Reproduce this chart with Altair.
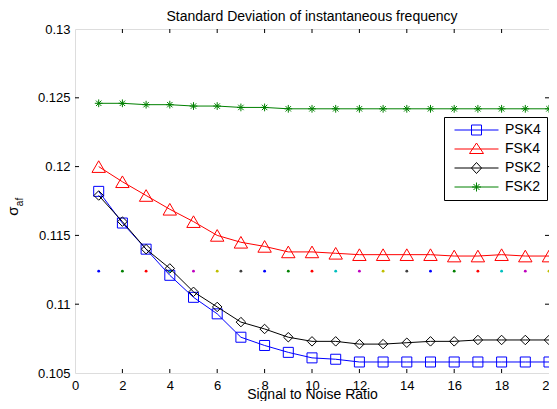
import altair as alt
import pandas as pd

# ---- data ----
snr = list(range(1, 21))
series_names = ["PSK4", "FSK4", "PSK2", "FSK2"]
series_colors = ["#0000FF", "#FF0000", "#000000", "#008000"]

psk4 = [0.1182, 0.1159, 0.1140, 0.1121, 0.1105, 0.1093, 0.1076, 0.1070, 0.1065, 0.1061,
        0.1060, 0.1058, 0.1058, 0.1058, 0.1058, 0.1058, 0.1058, 0.1058, 0.1058, 0.1058]
fsk4 = [0.1200, 0.1189, 0.1179, 0.1169, 0.1160, 0.1150, 0.1145, 0.1142, 0.1138, 0.1138,
        0.1137, 0.1136, 0.1136, 0.1136, 0.1136, 0.1135, 0.1135, 0.1136, 0.1135, 0.1135]
psk2 = [0.1179, 0.1160, 0.1140, 0.1126, 0.1109, 0.1098, 0.1087, 0.1082, 0.1076, 0.1073,
        0.1073, 0.1071, 0.1071, 0.1072, 0.1073, 0.1073, 0.1074, 0.1074, 0.1074, 0.1074]
fsk2 = [0.1246, 0.1246, 0.1245, 0.1245, 0.1244, 0.1244, 0.1243, 0.1243, 0.1242, 0.1242,
        0.1242, 0.1242, 0.1242, 0.1242, 0.1242, 0.1242, 0.1242, 0.1242, 0.1242, 0.1242]

dot_level = [0.1124, 0.1124, 0.1124, 0.1124, 0.1124, 0.1124, 0.1124, 0.1124, 0.1124, 0.1124,
             0.1124, 0.1124, 0.1124, 0.1124, 0.1124, 0.1124, 0.1124, 0.1124, 0.1124, 0.1124]
dot_colors = ["#0000FF", "#008000", "#FF0000", "#00BFBF", "#BF00BF", "#BFBF00", "#404040",
              "#0000FF", "#008000", "#FF0000", "#00BFBF", "#BF00BF", "#BFBF00", "#404040",
              "#0000FF", "#008000", "#FF0000", "#00BFBF", "#BF00BF", "#BFBF00"]

x_ticks = [0, 2, 4, 6, 8, 10, 12, 14, 16, 18, 20]
y_ticks = [0.105, 0.11, 0.115, 0.12, 0.125, 0.13]
x_inner_ticks = [2, 4, 6, 8, 10, 12, 14, 16, 18]
y_inner_ticks = [0.11, 0.115, 0.12, 0.125]

title_text = "Standard Deviation of instantaneous frequency"
x_title = "Signal to Noise Ratio"

# ---- tables ----
rows = []
for name, vals in zip(series_names, [psk4, fsk4, psk2, fsk2]):
    for s, v in zip(snr, vals):
        rows.append({"snr": s, "value": v, "series": name})
df = pd.DataFrame(rows)
dots_df = pd.DataFrame({"snr": snr, "value": dot_level, "color": dot_colors})
xt_df = pd.DataFrame({"snr": x_inner_ticks})
yt_df = pd.DataFrame({"value": y_inner_ticks})

W, H = 474, 344
FONT = "Liberation Sans"
TL = 4  # inward tick length

xscale = alt.Scale(domain=[0, 20], nice=False, padding=0)
yscale = alt.Scale(domain=[0.105, 0.13], nice=False, zero=False, padding=0)
xaxis = alt.Axis(values=x_ticks, title=x_title, grid=False, ticks=False, tickSize=0,
                 domain=False, labelPadding=6, titlePadding=-5, labelFontSize=13,
                 titleFontSize=14, titleFontWeight="normal", labelFont=FONT, titleFont=FONT,
                 labelColor="black", titleColor="black", labelFlush=False)
yaxis = alt.Axis(values=y_ticks, title=None, grid=False, ticks=False, tickSize=0,
                 domain=False, labelPadding=5, format="~g", labelFontSize=13,
                 labelFont=FONT, labelColor="black", labelFlush=False)


def X(field="snr"):
    return alt.X(f"{field}:Q", scale=xscale, axis=xaxis)


def Y(field="value"):
    return alt.Y(f"{field}:Q", scale=yscale, axis=yaxis)


base = alt.Chart(df)

star = "M-1,0L1,0M0,-1L0,1M-0.7,-0.7L0.7,0.7M-0.7,0.7L0.7,-0.7"
marker_specs = {
    "PSK4": ("square", 100),
    "FSK4": ("triangle-up", 180),
    "PSK2": ("diamond", 90),
    "FSK2": (star, 60),
}
series_layers = []
for name, col in zip(series_names, series_colors):
    shp, sz = marker_specs[name]
    sub_base = base.transform_filter(alt.datum.series == name)
    series_layers.append(
        sub_base.mark_line(strokeWidth=1, color=col).encode(x=X(), y=Y())
    )
    series_layers.append(
        sub_base.mark_point(shape=shp, size=sz, filled=False, color=col, strokeWidth=1,
                            opacity=1).encode(x=X(), y=Y())
    )

# legend symbols: line segment plus marker (units scaled by sqrt(size)/2 = 5px)
legend_paths = [
    "M-0.5,0L8.3,0M2.9,-1L4.9,-1L4.9,1L2.9,1Z",
    "M-0.5,0L8.3,0M3.9,-1.2L5.3,0.9L2.5,0.9Z",
    "M-0.5,0L8.3,0M3.9,-1.1L4.9,0L3.9,1.1L2.9,0Z",
    "M-0.5,0L8.3,0M3.9,-0.9L3.9,0.9M3.0,0L4.8,0M3.3,-0.6L4.5,0.6M3.3,0.6L4.5,-0.6",
]
leg = alt.Legend(title=None, orient="none", legendX=369, legendY=88, fillColor="white",
                 strokeColor="black", padding=6, labelFont=FONT, labelFontSize=14,
                 labelColor="black", labelOffset=41, rowPadding=4, symbolSize=100,
                 symbolStrokeWidth=1, symbolOpacity=1)
legend_layer = base.mark_point(filled=False, opacity=0).encode(
    x=X(), y=Y(),
    color=alt.Color("series:N", scale=alt.Scale(domain=series_names, range=series_colors),
                    legend=leg),
    shape=alt.Shape("series:N", scale=alt.Scale(domain=series_names, range=legend_paths),
                    legend=leg),
)

dots = alt.Chart(dots_df).mark_circle(size=8, opacity=1).encode(
    x=X(), y=Y(), fill=alt.Fill("color:N", scale=None)
)

xt_bottom = alt.Chart(xt_df).mark_rule(color="black", strokeWidth=1).encode(
    x=X(), y=alt.value(H), y2=alt.value(H - TL))
xt_top = alt.Chart(xt_df).mark_rule(color="black", strokeWidth=1).encode(
    x=X(), y=alt.value(0), y2=alt.value(TL))
yt_left = alt.Chart(yt_df).mark_rule(color="black", strokeWidth=1).encode(
    y=Y(), x=alt.value(0), x2=alt.value(TL))
yt_right = alt.Chart(yt_df).mark_rule(color="black", strokeWidth=1).encode(
    y=Y(), x=alt.value(W), x2=alt.value(W - TL))

sigma = alt.Chart(pd.DataFrame({"t": ["σ"]})).mark_text(
    angle=270, fontSize=15, font=FONT, color="black", align="center", baseline="alphabetic"
).encode(text="t:N", x=alt.value(-57), y=alt.value(182))
sub = alt.Chart(pd.DataFrame({"t": ["af"]})).mark_text(
    angle=270, fontSize=10, font=FONT, color="black", align="center", baseline="alphabetic"
).encode(text="t:N", x=alt.value(-52), y=alt.value(173))

chart = alt.layer(
    dots, *series_layers, legend_layer,
    xt_bottom, xt_top, yt_left, yt_right, sigma, sub
).properties(
    width=W, height=H,
    padding={"left": 67, "top": 21, "right": 0, "bottom": 28},
    autosize=alt.AutoSizeParams(type="none"),
    title=alt.TitleParams(title_text, font=FONT, fontSize=14, fontWeight="normal",
                          color="black", anchor="middle", offset=-1),
).configure_view(stroke="black", strokeWidth=1).configure(background="white")

chart.save("out.html", embed_options={"renderer": "svg", "actions": False})
